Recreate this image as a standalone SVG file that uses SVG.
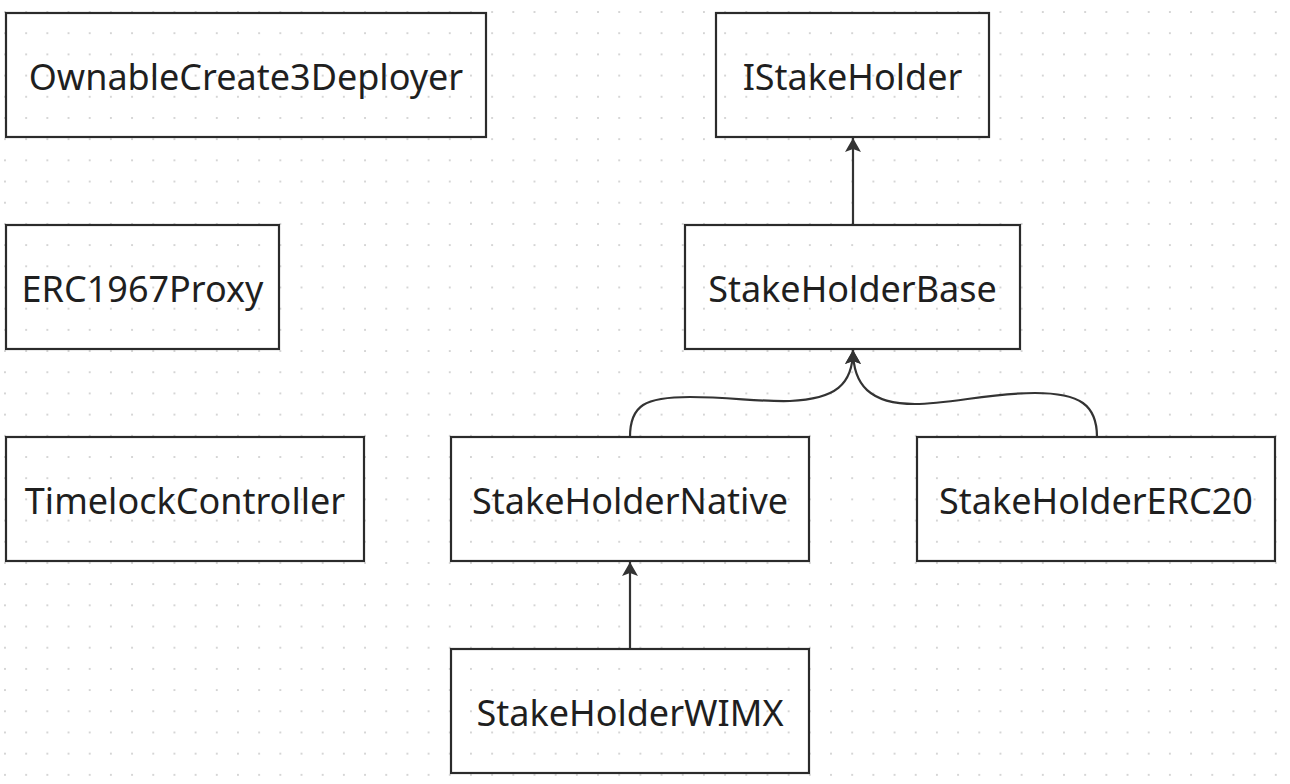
<svg xmlns="http://www.w3.org/2000/svg" width="1290" height="784" viewBox="0 0 1290 784">
<style>
.box{fill:none;stroke:#2b2b2b;stroke-width:2.2}
.lbl{font-family:"Noto Sans","Open Sans",sans-serif;font-size:36px;fill:#1f1f1f;text-anchor:middle;dominant-baseline:central}
.edge{fill:none;stroke:#333;stroke-width:2.2}
</style>
<defs>
<pattern id="dots" x="5" y="12" width="21.18" height="21.19" patternUnits="userSpaceOnUse">
<circle cx="0" cy="0" r="1" fill="#c8c8c8"/>
<circle cx="21.18" cy="0" r="1" fill="#c8c8c8"/>
<circle cx="0" cy="21.19" r="1" fill="#c8c8c8"/>
<circle cx="21.18" cy="21.19" r="1" fill="#c8c8c8"/>
</pattern>
<marker id="arr" markerUnits="userSpaceOnUse" viewBox="-15 -9 17 18" refX="0" refY="0" markerWidth="17" markerHeight="18" orient="auto">
<path d="M0,0 L-14,-8 L-11,0 L-14,8 Z" fill="#333"/>
</marker>
</defs>
<rect width="1290" height="784" fill="#ffffff"/>
<rect width="1290" height="784" fill="url(#dots)"/>
<g id="connectors">
<path class="edge" d="M853,225 L853,138" marker-end="url(#arr)"/>
<path class="edge" d="M630,437 C630,405 645,397 690,397 C730,397 760,402 790,401 C835,399 853,385 853,350" marker-end="url(#arr)"/>
<path class="edge" d="M1097,437 C1097,405 1080,393 1035,393 C990,393 950,404 915,404 C870,404 853,385 853,350" marker-end="url(#arr)"/>
<path class="edge" d="M630,649 L630,562" marker-end="url(#arr)"/>
</g>
<g id="OwnableCreate3Deployer"><rect class="box" x="6" y="13" width="480" height="124"/><text class="lbl" x="246" y="76">OwnableCreate3Deployer</text></g>
<g id="ERC1967Proxy"><rect class="box" x="6" y="225" width="273" height="124"/><text class="lbl" x="142.5" y="288">ERC1967Proxy</text></g>
<g id="TimelockController"><rect class="box" x="6" y="437" width="358" height="124"/><text class="lbl" x="185" y="500">TimelockController</text></g>
<g id="IStakeHolder"><rect class="box" x="716" y="13" width="273" height="124"/><text class="lbl" x="852.5" y="76">IStakeHolder</text></g>
<g id="StakeHolderBase"><rect class="box" x="685" y="225" width="335" height="124"/><text class="lbl" x="852.5" y="288">StakeHolderBase</text></g>
<g id="StakeHolderNative"><rect class="box" x="451" y="437" width="358" height="124"/><text class="lbl" x="630" y="500">StakeHolderNative</text></g>
<g id="StakeHolderERC20"><rect class="box" x="917" y="437" width="358" height="124"/><text class="lbl" x="1096" y="500">StakeHolderERC20</text></g>
<g id="StakeHolderWIMX"><rect class="box" x="451" y="649" width="358" height="124"/><text class="lbl" x="630" y="712">StakeHolderWIMX</text></g>
</svg>
